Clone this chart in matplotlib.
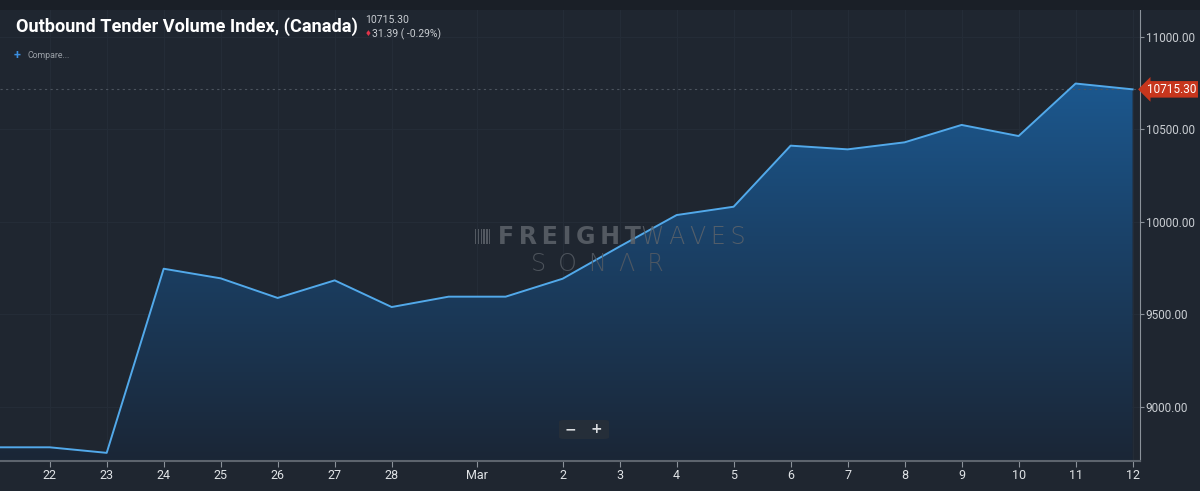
import numpy as np
import matplotlib.pyplot as plt
import matplotlib.dates as mdates
import matplotlib.transforms as mtransforms
from matplotlib.colors import LinearSegmentedColormap
from matplotlib.patches import Rectangle, FancyBboxPatch
from datetime import datetime

# Outbound Tender Volume Index (Canada), daily values
dates = ['2020-02-21', '2020-02-22', '2020-02-23', '2020-02-24', '2020-02-25',
         '2020-02-26', '2020-02-27', '2020-02-28', '2020-02-29', '2020-03-01',
         '2020-03-02', '2020-03-03', '2020-03-04', '2020-03-05', '2020-03-06',
         '2020-03-07', '2020-03-08', '2020-03-09', '2020-03-10', '2020-03-11',
         '2020-03-12']
values = [8781, 8781, 8751, 9746, 9694, 9588, 9683, 9539, 9595, 9595,
          9692, 9866, 10036, 10081, 10411, 10391, 10429, 10523, 10463,
          10746.69, 10715.30]

tick_dates = ['2020-02-22', '2020-02-23', '2020-02-24', '2020-02-25', '2020-02-26',
              '2020-02-27', '2020-02-28', '2020-02-29 12:00', '2020-03-02',
              '2020-03-03', '2020-03-04', '2020-03-05', '2020-03-06', '2020-03-07',
              '2020-03-08', '2020-03-09', '2020-03-10', '2020-03-11', '2020-03-12']
tick_labels = ['22', '23', '24', '25', '26', '27', '28', 'Mar', '2', '3', '4',
               '5', '6', '7', '8', '9', '10', '11', '12']
y_ticks = [9000, 9500, 10000, 10500, 11000]

title = 'Outbound Tender Volume Index, (Canada)'
last_value = 10715.30
change = 31.39
change_pct = -0.29

bg = '#1f2630'
line_c = '#52a9ea'
txt_c = '#c9cdd2'
wm_c = '#5d636a'
W, H = 1200, 491

x = mdates.datestr2num(dates)
xt = mdates.datestr2num(tick_dates)

plt.rcParams['font.family'] = ['Roboto', 'DejaVu Sans']

fig = plt.figure(figsize=(12, 4.91), dpi=100, facecolor=bg)
ax = fig.add_axes([0.0, 1 - 461 / H, 1140 / W, 451 / H])
ax.set_facecolor(bg)

# darker strip on top
fig.patches.append(Rectangle((0, 1 - 10 / H), 1, 10 / H, transform=fig.transFigure,
                             fc='#1a1f27', ec='none', zorder=0))

x0 = mdates.date2num(datetime(2020, 2, 22))
ax.set_xlim(x0 - 0.872, x0 + 19.13)
ax.set_ylim(8707, 11144)

ax.grid(True, color='#242c37', lw=0.8)
ax.set_axisbelow(True)

# gradient fill under the line
cmap = LinearSegmentedColormap.from_list('fill', ['#1b2636', '#1a4269', '#1d62a0'])
grad = np.linspace(0, 1, 256).reshape(-1, 1)
im = ax.imshow(grad, cmap=cmap, origin='lower', aspect='auto',
               extent=[x[0], x[-1], 8707, 11144], zorder=1)
poly = ax.fill_between(x, values, 8707, color='none', lw=0)
im.set_clip_path(poly.get_paths()[0], transform=ax.transData)

ax.plot(x, values, color=line_c, lw=1.4, zorder=3)
ax.axhline(last_value, color='#4c545e', lw=0.8, ls=(0, (2, 3)), zorder=2)

ax.set_xticks(xt)
ax.set_xticklabels(tick_labels)
ax.set_yticks(y_ticks)
ax.set_yticklabels(['%.2f' % v for v in y_ticks])
ax.yaxis.tick_right()
ax.tick_params(axis='y', colors='#8b929a', labelcolor=txt_c, labelsize=8.5,
               length=3, pad=1)
ax.tick_params(axis='x', colors='#8b929a', labelcolor='#e0e3e6', labelsize=9,
               length=4, pad=2, direction='out')
for side in ['top', 'left']:
    ax.spines[side].set_visible(False)
ax.spines['right'].set_color('#8b929a')
ax.spines['bottom'].set_color('#5d646d')
ax.spines['bottom'].set_linewidth(1.5)

# last price tag
trans = mtransforms.blended_transform_factory(ax.transAxes, ax.transData)
ax.text(1.006, last_value, '%.2f' % last_value, transform=trans, ha='left',
        va='center', fontsize=8.5, color='white', clip_on=False, zorder=5,
        bbox=dict(boxstyle='larrow,pad=0.15', fc='#c7361d', ec='none'))

# header texts
fig.text(16 / W, 1 - 27 / H, title, fontsize=13.1, fontweight='bold',
         color='white', va='center', ha='left')
fig.text(365 / W, 1 - 20 / H, '%.2f' % last_value, fontsize=7.5, color=txt_c,
         va='center', ha='left')
fig.text(365 / W, 1 - 34 / H, '\u2666', fontsize=5.5, color='#e0344a',
         va='center', ha='left', family=['DejaVu Sans'])
fig.text(372 / W, 1 - 34 / H, '%.2f ( %.2f%%)' % (change, change_pct),
         fontsize=7.5, color=txt_c, va='center', ha='left')
fig.text(14 / W, 1 - 55 / H, '+', fontsize=9, color='#3b8fe0',
         va='center', ha='left', fontweight='bold')
fig.text(27 / W, 1 - 55 / H, 'Compare...', fontsize=6.3, color='#9aa0a7',
         va='center', ha='left')

# watermark (letter-spaced with thin spaces to look like the wide logo font)
ts = '\u2009'
fig.text(641 / W, 1 - 237 / H, ts.join('FREIGHT'), fontsize=17, fontweight='heavy',
         color=wm_c, alpha=0.85, ha='right', va='center', family=['DejaVu Sans'])
fig.text(641 / W, 1 - 237 / H, ts.join('WAVES'), fontsize=17, fontweight='light',
         color=wm_c, alpha=0.85, ha='left', va='center', family=['DejaVu Sans'])
fig.text(597 / W, 1 - 264 / H, (' ' + ts).join('SON\u039bR'), fontsize=17,
         fontweight='light', color='#555b63', alpha=0.85, ha='center', va='center',
         family=['DejaVu Sans'])
for k in range(6):
    fig.patches.append(Rectangle(((475 + k * 2.8) / W, 1 - 244 / H), 1.3 / W,
                                 15 / H, transform=fig.transFigure, fc=wm_c,
                                 ec='none', alpha=0.85, zorder=4))

# zoom buttons
fig.patches.append(FancyBboxPatch((559 / W, 1 - 439 / H), 50 / W, 19 / H,
                                  boxstyle='round,pad=0,rounding_size=0.004',
                                  transform=fig.transFigure, fc='#252e39', ec='none',
                                  zorder=4))
fig.text(570 / W, 1 - 429 / H, '\u2212', fontsize=10, color='#d8dbde',
         ha='center', va='center', fontweight='bold', family=['DejaVu Sans'], zorder=5)
fig.text(596 / W, 1 - 429 / H, '+', fontsize=10, color='#d8dbde',
         ha='center', va='center', fontweight='bold', family=['DejaVu Sans'], zorder=5)

fig.savefig('out.png', dpi=100, facecolor=bg)
